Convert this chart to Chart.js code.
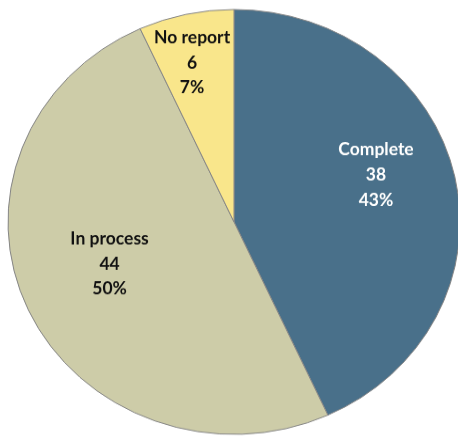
<!DOCTYPE html>
<html lang="en">
<head>
    <meta charset="UTF-8">
    <title>Report status</title>
    <style>
        * { margin: 0; padding: 0; box-sizing: border-box; }
        body { background: #fff; width: 458px; height: 436px; overflow: hidden; position: relative; }
        /* the pie is a slightly flattened ellipse, so the chart box gets squashed vertically */
        .wrap { position: absolute; left: -1px; top: 1px; width: 470px; height: 470px; transform: scaleY(0.94); transform-origin: 0 0; }
    </style>
    <script src="https://cdn.jsdelivr.net/npm/chart.js"></script>
</head>
<body>
    <div class="wrap"><canvas id="pie"></canvas></div>

    <script>
        const categories = ['Complete', 'In process', 'No report'];
        const counts = [38, 44, 6];
        const percentLabels = ['43%', '50%', '7%'];

        const sliceColors = ['#49708a', '#cdcca8', '#f9e68b'];
        const textColors = ['#ffffff', '#111111', '#111111'];
        // where each label block sits: fraction of radius, angle nudge (deg)
        const labelSpots = [
            { frac: 0.666, shift: -7.1 },
            { frac: 0.585, shift: 4.8 },
            { frac: 0.771, shift: -1.65 }
        ];
        const squash = 0.94;

        const sliceLabels = {
            id: 'sliceLabels',
            afterDatasetsDraw(chart) {
                const ctx = chart.ctx;
                const arcs = chart.getDatasetMeta(0).data;
                arcs.forEach((arc, i) => {
                    const { x, y, startAngle, endAngle, outerRadius } =
                        arc.getProps(['x', 'y', 'startAngle', 'endAngle', 'outerRadius'], true);
                    const spot = labelSpots[i];
                    const a = (startAngle + endAngle) / 2 + spot.shift * Math.PI / 180;
                    const px = x + Math.cos(a) * outerRadius * spot.frac;
                    const py = y + Math.sin(a) * outerRadius * spot.frac;
                    ctx.save();
                    ctx.translate(px, py);
                    ctx.scale(1, 1 / squash);
                    ctx.font = 'bold 17.5px Lato, "DejaVu Sans", sans-serif';
                    ctx.fillStyle = textColors[i];
                    ctx.textAlign = 'center';
                    ctx.textBaseline = 'middle';
                    const lines = [categories[i], String(counts[i]), percentLabels[i]];
                    lines.forEach((t, k) => ctx.fillText(t, 0, (k - 1) * 25));
                    ctx.restore();
                });
            }
        };

        new Chart(document.getElementById('pie'), {
            type: 'pie',
            data: {
                labels: categories,
                datasets: [{
                    data: counts,
                    backgroundColor: sliceColors,
                    borderColor: '#858585',
                    borderWidth: 1
                }]
            },
            options: {
                responsive: true,
                maintainAspectRatio: false,
                animation: false,
                radius: 226,
                layout: { padding: 0 },
                plugins: {
                    legend: { display: false },
                    tooltip: { enabled: false }
                }
            },
            plugins: [sliceLabels]
        });
    </script>
</body>
</html>
